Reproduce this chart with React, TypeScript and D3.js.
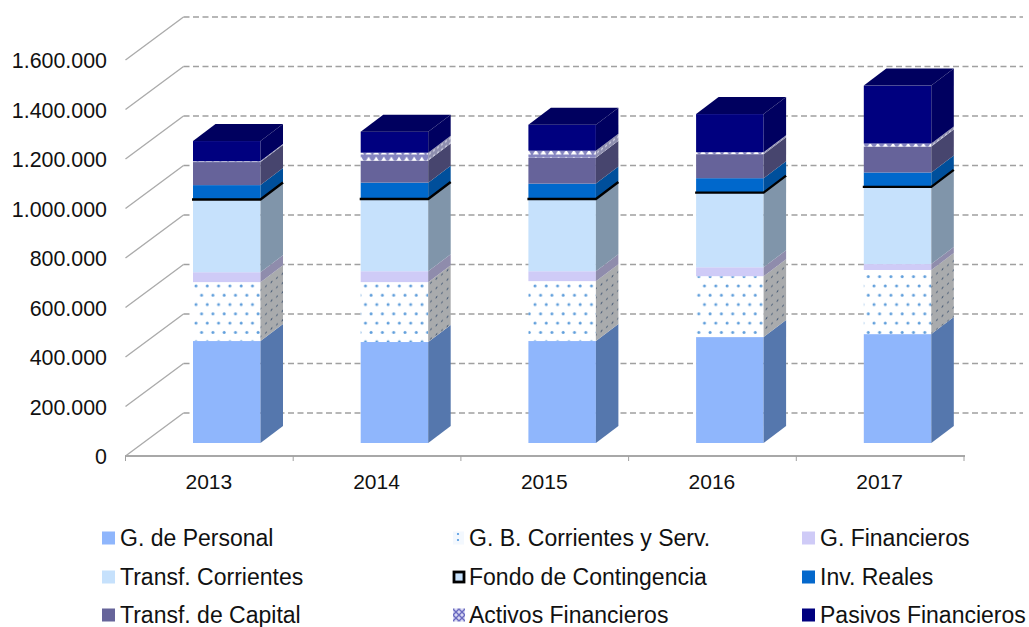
import React from "react";
import * as d3 from "d3";

const years = ["2013", "2014", "2015", "2016", "2017"];
const yTicks = [0, 200000, 400000, 600000, 800000, 1000000, 1200000, 1400000, 1600000];
const personal = [412000, 408000, 412000, 428000, 440000];
const corrientesServ = [238000, 242000, 242000, 246000, 259000];
const financieros = [40000, 44000, 40000, 36000, 24000];
const transfCorrientes = [293000, 291000, 291000, 301000, 311000];
const fondo = [2000, 2000, 2000, 2000, 2000];
const invReales = [57000, 65000, 61000, 57000, 57000];
const transfCapital = [93000, 89000, 105000, 97000, 105000];
const activos = [4000, 32000, 28000, 8000, 12000];
const pasivos = [81000, 85000, 105000, 154000, 234000];

const seriesNames = ["G. de Personal", "G. B. Corrientes y Serv.", "G. Financieros", "Transf. Corrientes", "Fondo de Contingencia", "Inv. Reales", "Transf. de Capital", "Activos Financieros", "Pasivos Financieros"];
const seriesValues = [personal, corrientesServ, financieros, transfCorrientes, fondo, invReales, transfCapital, activos, pasivos];
const frontFills = ["#8fb6fc", "url(#dots)", "#cfcbf7", "#c6e1fc", "#c6e1fc", "#0468cc", "#66649a", "url(#lattice)", "#00007f"];
const sideFills = ["#5577ad", "url(#dotsSide)", "#8f8cac", "#8095aa", "#000000", "#00509b", "#46456e", "url(#latticeSide)", "#000060"];
const FONT = "'Liberation Sans', Arial, sans-serif";

const axisY = 456;
const depthX = 58, depthY = 43;
const barDepthX = 22.5, barDepthY = 17;
const barBase = 443;
const barW = 67.5;

const y = d3.scaleLinear().domain([0, 1600000]).range([barBase, barBase - 396]);
const x = d3.scaleBand<string>().domain(years).range([125.5, 964]).paddingInner(0).paddingOuter(0);
const rows = years.map((yr, i) => {
  const o: Record<string, number | string> = { yr };
  seriesNames.forEach((n, s) => (o[n] = seriesValues[s][i]));
  return o;
});
const stacked = d3.stack<any>().keys(seriesNames)(rows);
const tickPx = (v: number) => y(v) + (axisY - barBase);

function Bar({ i }: { i: number }) {
  const yr = years[i];
  const x0 = (x(yr) as number) + 67.5;
  const x1 = x0 + barW;
  const topV = stacked[stacked.length - 1][i][1];
  const top = y(topV);
  return (
    <g>
      {stacked.map((s, k) => {
        const yb = y(s[i][0]);
        const yt = y(s[i][1]);
        const isFondo = k === 4;
        const side = `M${x1},${yb}L${x1 + barDepthX},${yb - barDepthY}L${x1 + barDepthX},${yt - barDepthY}L${x1},${yt}Z`;
        return (
          <g key={k}>
            {isFondo ? null : <rect x={x0} y={yt} width={barW} height={yb - yt} fill={frontFills[k]} />}
            {isFondo ? null : <path d={side} fill={sideFills[k]} />}
          </g>
        );
      })}
      {(() => {
        const yf = y(stacked[4][i][1]);
        return (
          <path d={`M${x0 - 1},${yf + 0.3}L${x1},${yf + 0.3}L${x1 + barDepthX},${yf - barDepthY + 0.3}`} fill="none" stroke="#000" strokeWidth={2.4} />
        );
      })()}
      <path d={`M${x0},${top}L${x0 + barDepthX},${top - barDepthY}L${x1 + barDepthX},${top - barDepthY}L${x1},${top}Z`} fill="#00005e" />
    </g>
  );
}

const legendCols = [102, 452, 802];
const legendText = [120, 469, 820];
const legendRows = [538, 577, 615];

function Swatch({ k, sx, cy }: { k: number; sx: number; cy: number }) {
  if (k === 4) return <rect x={sx + 2} y={cy - 5} width={10} height={10} fill="#c6e1fc" stroke="#000" strokeWidth={2.8} />;
  if (k === 1)
    return (
      <g>
        <rect x={sx + 1} y={cy - 6.5} width={11} height={13} fill="#f3f8fe" />
        <circle cx={sx + 6} cy={cy - 4} r={1.1} fill="#4f97e0" />
        <circle cx={sx + 6} cy={cy + 2} r={1.1} fill="#4f97e0" />
      </g>
    );
  if (k === 7) return <rect x={sx + 1} y={cy - 6.5} width={12} height={13} fill="url(#latticeKey)" />;
  return <rect x={sx} y={cy - 6.5} width={13} height={13} fill={frontFills[k]} />;
}

export default function App() {
  return (
    <svg width={1029} height={627} viewBox="0 0 1029 627" style={{ position: "absolute", left: 0, top: 0, background: "#fff" }}>
      <defs>
        <pattern id="dots" width={11.3} height={18.6} patternUnits="userSpaceOnUse" patternTransform="translate(193 282)">
          <rect width={11.3} height={18.6} fill="#fff" />
          <circle cx={3} cy={4} r={1.5} fill="#5f9edb" />
          <circle cx={8.6} cy={13.3} r={1.5} fill="#5f9edb" />
        </pattern>
        <pattern id="dotsSide" width={5.5} height={9.3} patternUnits="userSpaceOnUse" patternTransform="skewY(-37)">
          <rect width={5.5} height={9.3} fill="#a9abad" />
          <circle cx={2} cy={3} r={0.9} fill="#4d5f78" />
        </pattern>
        <pattern id="lattice" width={7.6} height={7} patternUnits="userSpaceOnUse" patternTransform="translate(0 1)">
          <rect width={7.6} height={7} fill="#8585c0" />
          <path d="M0.8,6.5L3.8,1.5L6.8,6.5Z" fill="#fff" />
        </pattern>
        <pattern id="latticeSide" width={4} height={5} patternUnits="userSpaceOnUse" patternTransform="skewY(-37)">
          <rect width={4} height={5} fill="#8e8eae" />
          <circle cx={2} cy={2.5} r={0.9} fill="#d8d8e8" />
        </pattern>
        <pattern id="latticeKey" width={6} height={6} patternUnits="userSpaceOnUse">
          <rect width={6} height={6} fill="#d8d8f2" />
          <path d="M0,0L6,6M6,0L0,6" stroke="#6a6ac0" strokeWidth={1.4} />
        </pattern>
        <filter id="soft" x="-2%" y="-2%" width="104%" height="104%">
          <feGaussianBlur stdDeviation={0.45} />
        </filter>
      </defs>

      <g filter="url(#soft)">
        {yTicks.map((t) => {
          const py = tickPx(t);
          return (
            <g key={t}>
              <line x1={125.5} y1={py} x2={125.5 + depthX} y2={py - depthY} stroke="#ababab" strokeWidth={1.4} />
              <line x1={125.5 + depthX} y1={py - depthY} x2={1023} y2={py - depthY} stroke="#a0a0a0" strokeWidth={1.6} strokeDasharray="6 3.5" />
            </g>
          );
        })}
        <line x1={125} y1={axisY} x2={965} y2={axisY} stroke="#a8a8a8" strokeWidth={2} />
        {[...years.map((d) => x(d) as number), 964].map((px, i) => (
          <line key={i} x1={px} y1={axisY} x2={px} y2={axisY + 5} stroke="#a0a0a0" strokeWidth={1} />
        ))}
        {years.map((_, i) => (
          <Bar key={i} i={i} />
        ))}
      </g>

      <g fontFamily={FONT} fill="#111">
        {yTicks.map((t) => (
          <text key={t} x={107} y={tickPx(t) + 1} fontSize={21.4} textAnchor="end" dominantBaseline="central">
            {t === 0 ? "0" : d3.format(",")(t).replace(/,/g, ".")}
          </text>
        ))}
        {years.map((d) => (
          <text key={d} x={(x(d) as number) + x.bandwidth() / 2 - 0.5} y={481} fontSize={21} textAnchor="middle" dominantBaseline="central">
            {d}
          </text>
        ))}
        {seriesNames.map((n, k) => {
          const col = k % 3;
          const row = Math.floor(k / 3);
          return (
            <g key={n}>
              <Swatch k={k} sx={legendCols[col]} cy={legendRows[row]} />
              <text x={legendText[col]} y={legendRows[row]} fontSize={23} dominantBaseline="central">
                {n}
              </text>
            </g>
          );
        })}
      </g>
    </svg>
  );
}
